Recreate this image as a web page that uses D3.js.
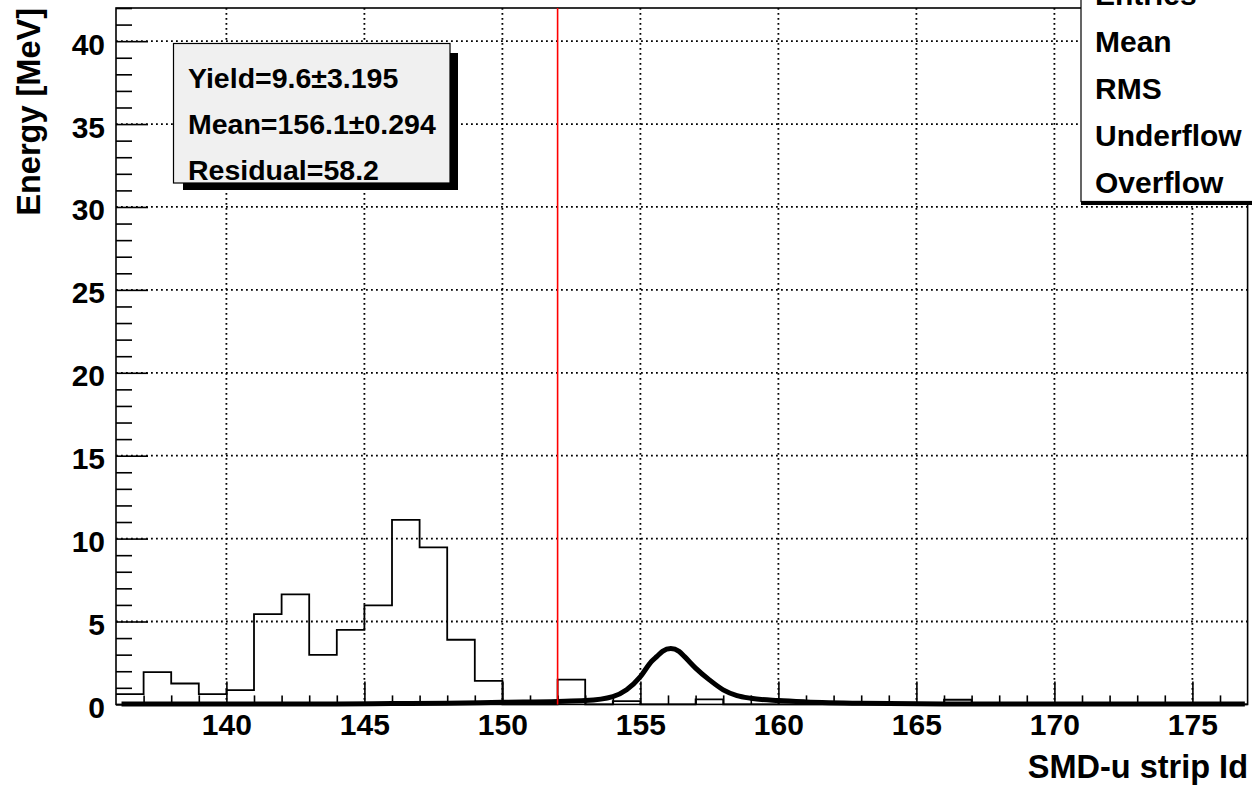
<!DOCTYPE html>
<html>
<head>
<meta charset="utf-8">
<script src="https://cdn.jsdelivr.net/npm/d3@7/dist/d3.min.js"></script>
<style>
  html, body { margin: 0; padding: 0; background: #ffffff; }
  svg { display: block; }
  text { font-family: "Liberation Sans", Arial, Helvetica, sans-serif; font-weight: bold; fill: #000; }
</style>
</head>
<body>
<script>
// ---------------- data ----------------
const binLow = d3.range(136, 177);           // bin lower edges, width 1
const binValues = [
  0.62, 1.95, 1.26, 0.62, 0.86, 5.45, 6.63, 2.99, 4.5, 5.97,
  11.13, 9.47, 3.9, 1.42, 0, 0, 1.5, 0, 0.2, 0,
  0, 0.3, 0, 0, 0, 0, 0, 0, 0, 0,
  0.28, 0, 0, 0, 0, 0, 0, 0, 0, 0,
  0
];
const fitX = [136.2, 140, 144, 146, 148, 150, 152, 153, 154, 154.5, 155, 155.4, 155.6, 155.8, 156.1, 156.4, 156.6, 157, 157.5, 158, 158.5, 159, 160, 161, 163, 166, 170, 176.9];
const fitY = [0.02, 0.02, 0.03, 0.05, 0.07, 0.13, 0.18, 0.23, 0.47, 0.88, 1.68, 2.59, 2.9, 3.2, 3.37, 3.2, 2.88, 2.19, 1.48, 0.88, 0.53, 0.37, 0.23, 0.15, 0.07, 0.03, 0.02, 0.02];
const xTicks = [140, 145, 150, 155, 160, 165, 170, 175];
const yTicks = [0, 5, 10, 15, 20, 25, 30, 35, 40];
const cutX = 152;
const fitLines = ["Yield=9.6\u00B13.195", "Mean=156.1\u00B10.294", "Residual=58.2"];
const statsLines = ["Entries", "Mean", "RMS", "Underflow", "Overflow"];
const xTitle = "SMD-u strip Id";
const yTitle = "Energy [MeV]";

// ---------------- layout ----------------
const W = 1252, H = 789;
const L = 116, R = 1247.6, T = 8, B = 704.4;

const svg = d3.select("body").append("svg").attr("width", W).attr("height", H);
svg.append("rect").attr("width", W).attr("height", H).attr("fill", "#fff");

const x = d3.scaleLinear().domain([136, 177]).range([L, R]);
const y = d3.scaleLinear().domain([0, 42]).range([B, T]);

// grid
const grid = svg.append("g").attr("stroke", "#000").attr("stroke-width", 1.8).attr("stroke-dasharray", "1.8 3.2");
grid.selectAll("line.gx").data(xTicks).join("line").attr("class", "gx")
  .attr("x1", d => x(d)).attr("x2", d => x(d)).attr("y1", T).attr("y2", B);
grid.selectAll("line.gy").data(yTicks.filter(d => d > 0)).join("line").attr("class", "gy")
  .attr("x1", L).attr("x2", R).attr("y1", d => y(d)).attr("y2", d => y(d));

// axes (ticks + labels)
const xMinor = d3.range(137, 177).filter(v => v % 5 !== 0);
const yMinor = d3.range(1, 43).filter(v => v % 5 !== 0);

const gxMinor = svg.append("g").attr("transform", `translate(0,${B})`)
  .call(d3.axisBottom(x).tickValues(xMinor).tickSize(-9).tickFormat(""));
const gxMajor = svg.append("g").attr("transform", `translate(0,${B})`)
  .call(d3.axisBottom(x).tickValues(xTicks).tickSize(-23).tickPadding(9).tickFormat(d3.format("d")));
const gyMinor = svg.append("g").attr("transform", `translate(${L},0)`)
  .call(d3.axisLeft(y).tickValues(yMinor).tickSize(-16).tickFormat(""));
const gyMajor = svg.append("g").attr("transform", `translate(${L},0)`)
  .call(d3.axisLeft(y).tickValues(yTicks).tickSize(-32).tickPadding(11).tickFormat(d3.format("d")));

[gxMinor, gxMajor, gyMinor, gyMajor].forEach(g => {
  g.select(".domain").remove();
  g.selectAll(".tick line").attr("stroke", "#000").attr("stroke-width", 1.6);
});
gxMajor.selectAll(".tick text").attr("font-size", 30).attr("font-family", "Liberation Sans, Arial, sans-serif").attr("font-weight", "bold").attr("fill", "#000");
gyMajor.selectAll(".tick text").attr("font-size", 30).attr("font-family", "Liberation Sans, Arial, sans-serif").attr("font-weight", "bold").attr("fill", "#000").attr("dy", 13);

// histogram outline
const histPts = binLow.map((b, i) => [b, binValues[i]]);
histPts.push([177, binValues[binValues.length - 1]]);
const histLine = d3.line().x(d => x(d[0])).y(d => y(d[1])).curve(d3.curveStepAfter);
svg.append("path").attr("d", histLine(histPts)).attr("fill", "none")
  .attr("stroke", "#000").attr("stroke-width", 1.8);

// frame
svg.append("rect").attr("x", L).attr("y", T).attr("width", R - L).attr("height", B - T)
  .attr("fill", "none").attr("stroke", "#000").attr("stroke-width", 1.6);

// fit curve
const fitPts = fitX.map((v, i) => [v, fitY[i]]);
const fitLine = d3.line().x(d => x(d[0])).y(d => y(d[1])).curve(d3.curveMonotoneX);
svg.append("path").attr("d", fitLine(fitPts)).attr("fill", "none")
  .attr("stroke", "#000").attr("stroke-width", 5).attr("stroke-linejoin", "round");

// red cut line
svg.append("line").attr("x1", x(cutX)).attr("x2", x(cutX)).attr("y1", y(42)).attr("y2", y(0))
  .attr("stroke", "#ff0000").attr("stroke-width", 1.6);

// fit box
svg.append("rect").attr("x", 183).attr("y", 53).attr("width", 275).attr("height", 137).attr("fill", "#000");
svg.append("rect").attr("x", 173.5).attr("y", 43.5).attr("width", 276.5).attr("height", 139.5)
  .attr("fill", "#f0f0f0").attr("stroke", "#000").attr("stroke-width", 1.2);
svg.append("g").selectAll("text").data(fitLines).join("text")
  .attr("x", 188).attr("y", (d, i) => 88 + i * 46)
  .attr("font-size", 28.5).text(d => d);

// stats box
svg.append("rect").attr("x", 1081).attr("y", -60).attr("width", 240).attr("height", 265).attr("fill", "#000");
svg.append("rect").attr("x", 1081).attr("y", -60).attr("width", 240).attr("height", 261.5)
  .attr("fill", "#fff").attr("stroke", "#000").attr("stroke-width", 1.2);
svg.append("g").selectAll("text").data(statsLines).join("text")
  .attr("x", 1095).attr("y", (d, i) => 5 + i * 47)
  .attr("font-size", 30).text(d => d);

// axis titles
svg.append("text").attr("x", 1248).attr("y", 778).attr("text-anchor", "end")
  .attr("font-size", 32.5).text(xTitle);
svg.append("text").attr("transform", "translate(40,8) rotate(-90)").attr("text-anchor", "end")
  .attr("font-size", 32.5).text(yTitle);
</script>
</body>
</html>
